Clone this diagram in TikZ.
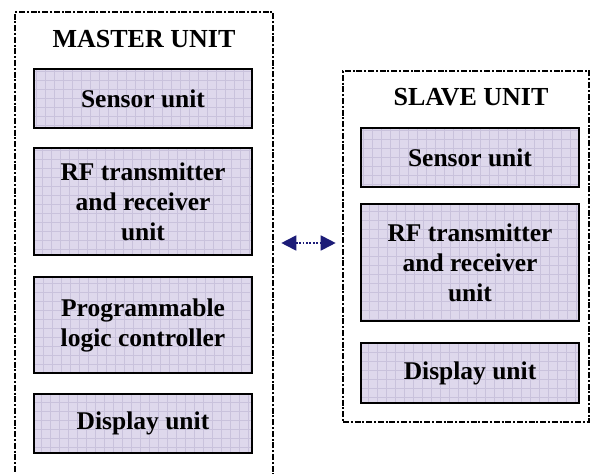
\documentclass[tikz,border=0pt]{standalone}
\usepackage{fontspec}
\setmainfont{Liberation Serif}
\usepackage{xcolor}
\usetikzlibrary{arrows.meta,positioning,calc}
\definecolor{unitfill}{HTML}{DED8EC}
\definecolor{gridcol}{HTML}{C9C2DC}
\definecolor{linkblue}{HTML}{1C1C78}

\begin{document}
\begin{tikzpicture}[x=1pt, y=-1pt,
    frame/.style={draw=black, line width=2.6pt, dash pattern=on 6pt off 1.8pt on 2pt off 1.8pt, inner sep=0pt},
    title/.style={font=\fontsize{26}{30}\selectfont\bfseries, anchor=base, inner sep=0pt},
    unit/.style={draw=black, line width=2.4pt, fill=unitfill, minimum width=218pt, align=center, inner sep=0pt,
        font=\fontsize{25.5}{30}\selectfont\bfseries,
        path picture={\draw[gridcol, line width=0.4pt] (path picture bounding box.south west) grid[step=9pt] (path picture bounding box.north east);}},
    link/.style={{Triangle[length=15pt,width=15pt]}-{Triangle[length=15pt,width=15pt]}, linkblue, line width=1.8pt, dash pattern=on 1.8pt off 1.6pt}
]
\useasboundingbox (0,0) rectangle (592,474);
% master side
\node[frame, minimum width=258pt, minimum height=480pt] (masterframe) at (144,252) {};
\node[title] (mastertitle) at (144,47) {MASTER UNIT};
\node[unit, minimum height=59pt]  (mastersensor) at (143,98.5)  {Sensor unit};
\node[unit, minimum height=107pt] (masterrf)     at (143,201.5) {RF transmitter\\and receiver\\unit};
\node[unit, minimum height=96pt]  (masterplc)    at (143,325)   {Programmable\\logic controller};
\node[unit, minimum height=59pt]  (masterdisp)   at (143,423.5) {Display unit};
% slave side
\node[frame, minimum width=246pt, minimum height=351pt] (slaveframe) at (466,246.5) {};
\node[title] (slavetitle) at (471,105) {SLAVE UNIT};
\node[unit, minimum height=59pt]  (slavesensor) at (470,157.5) {Sensor unit};
\node[unit, minimum height=117pt] (slaverf)     at (470,262.5) {RF transmitter\\and receiver\\unit};
\node[unit, minimum height=60pt]  (slavedisp)   at (470,373)   {Display unit};
% wireless link
\draw[link] ([xshift=7pt,yshift=3.5pt]masterframe.east |- slaveframe.west) -- ([xshift=-6pt,yshift=3.5pt]slaveframe.west);
\end{tikzpicture}
\end{document}
